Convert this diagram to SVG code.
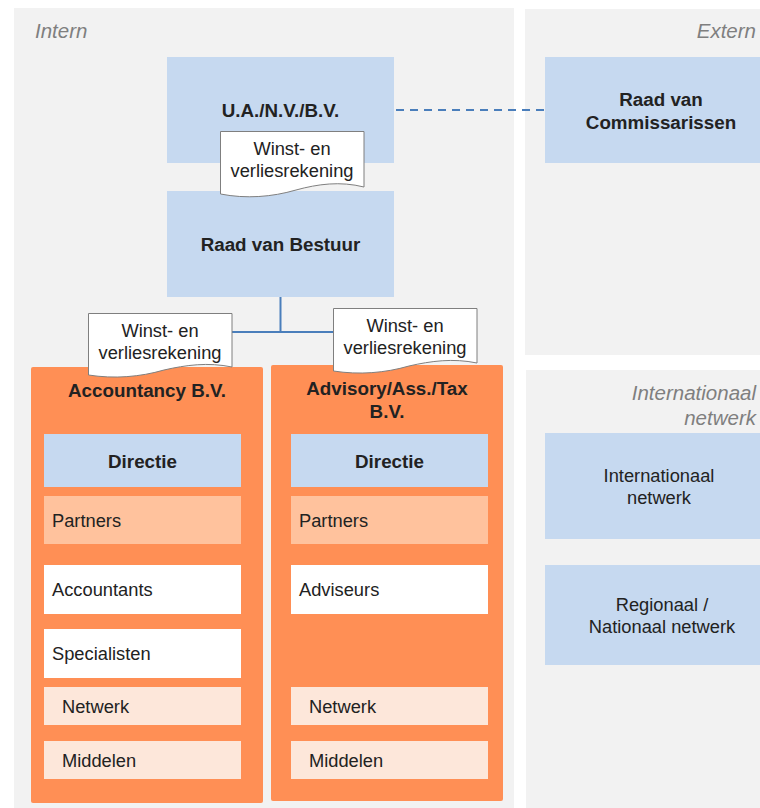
<svg xmlns="http://www.w3.org/2000/svg" width="760" height="808" viewBox="0 0 760 808">
  <style>
    text { font-family: "Liberation Sans", Arial, sans-serif; font-size: 18.3px; fill: #222; }
    .b { font-weight: bold; font-size: 18.8px; }
    .mid { text-anchor: middle; }
    .hdr { font-style: italic; font-size: 20.5px; fill: #7f7f7f; }
    .panel { fill: #f2f2f2; }
    .blue { fill: #c6d9f0; }
    .org { fill: #ff8f55; }
    .partner { fill: #ffc29d; }
    .light { fill: #fde7da; }
    .white { fill: #ffffff; }
    .doc { fill: #ffffff; stroke: #7f7f7f; stroke-width: 1; }
    .link { fill: none; stroke: #4a7ebb; stroke-width: 2; }
  </style>

  <!-- background panels -->
  <g id="panels">
    <rect class="panel" x="14" y="8" width="500" height="800"/>
    <rect class="panel" x="525" y="9" width="235" height="346"/>
    <rect class="panel" x="526" y="370" width="234" height="438"/>
    <text class="hdr" x="35" y="38">Intern</text>
    <text class="hdr" x="756" y="38" text-anchor="end">Extern</text>
    <text class="hdr" x="756" y="400" text-anchor="end">Internationaal</text>
    <text class="hdr" x="756" y="425" text-anchor="end">netwerk</text>
  </g>

  <!-- connectors -->
  <g id="connectors">
    <line class="link" x1="396" y1="110" x2="545" y2="110" stroke-dasharray="8,6"/>
    <polyline class="link" points="160,332 280.5,332 280.5,297"/>
    <line class="link" x1="280.5" y1="332" x2="405" y2="332"/>
  </g>

  <g id="ua">
    <rect class="blue" x="167" y="57" width="227" height="106"/>
    <text class="b mid" x="280.5" y="117">U.A./N.V./B.V.</text>
  </g>

  <g id="rvc">
    <rect class="blue" x="545" y="57" width="215" height="106"/>
    <text class="b mid" x="661" y="106">Raad van</text>
    <text class="b mid" x="661" y="129">Commissarissen</text>
  </g>

  <g id="rvb">
    <rect class="blue" x="167" y="191" width="227" height="106"/>
    <text class="b mid" x="280.5" y="251">Raad van Bestuur</text>
  </g>

  <g id="doc-top">
    <path class="doc" d="M220.5,131.5 H364 V187 C340,181 318,184 296,190 C272,197 246,199 220.5,194 Z"/>
    <text class="mid" x="292" y="155">Winst- en</text>
    <text class="mid" x="292" y="177">verliesrekening</text>
  </g>

  <g id="accountancy">
    <rect class="org" x="31" y="367" width="232" height="436" rx="2"/>
    <text class="b mid" x="147" y="397">Accountancy B.V.</text>
    <rect class="blue" x="44" y="434" width="197" height="53"/>
    <text class="b mid" x="142.5" y="468">Directie</text>
    <rect class="partner" x="44" y="496" width="197" height="48"/>
    <text x="52" y="527">Partners</text>
    <rect class="white" x="44" y="565" width="197" height="49"/>
    <text x="52" y="596">Accountants</text>
    <rect class="white" x="44" y="629" width="197" height="49"/>
    <text x="52" y="660">Specialisten</text>
    <rect class="light" x="44" y="687" width="197" height="38"/>
    <text x="62" y="713">Netwerk</text>
    <rect class="light" x="44" y="741" width="197" height="38"/>
    <text x="62" y="767">Middelen</text>
  </g>

  <g id="advisory">
    <rect class="org" x="271" y="365" width="232" height="436" rx="2"/>
    <text class="b mid" x="387" y="395">Advisory/Ass./Tax</text>
    <text class="b mid" x="387" y="418">B.V.</text>
    <rect class="blue" x="291" y="434" width="197" height="53"/>
    <text class="b mid" x="389.5" y="468">Directie</text>
    <rect class="partner" x="291" y="496" width="197" height="48"/>
    <text x="299" y="527">Partners</text>
    <rect class="white" x="291" y="565" width="197" height="49"/>
    <text x="299" y="596">Adviseurs</text>
    <rect class="light" x="291" y="687" width="197" height="38"/>
    <text x="309" y="713">Netwerk</text>
    <rect class="light" x="291" y="741" width="197" height="38"/>
    <text x="309" y="767">Middelen</text>
  </g>

  <g id="doc-left">
    <path class="doc" d="M88.5,313.5 H232 V367 C208,362 186,365 164,370 C140,377 114,379 88.5,375 Z"/>
    <text class="mid" x="160" y="337">Winst- en</text>
    <text class="mid" x="160" y="359">verliesrekening</text>
  </g>

  <g id="doc-right">
    <path class="doc" d="M333.5,308.5 H477 V363 C453,358 431,361 409,366 C385,373 359,375 333.5,371 Z"/>
    <text class="mid" x="405" y="332">Winst- en</text>
    <text class="mid" x="405" y="354">verliesrekening</text>
  </g>

  <g id="intl">
    <rect class="blue" x="545" y="433" width="215" height="106"/>
    <text class="mid" x="659" y="482">Internationaal</text>
    <text class="mid" x="659" y="504">netwerk</text>
  </g>

  <g id="regional">
    <rect class="blue" x="545" y="565" width="215" height="100"/>
    <text class="mid" x="662" y="611">Regionaal /</text>
    <text class="mid" x="662" y="633">Nationaal netwerk</text>
  </g>
</svg>
